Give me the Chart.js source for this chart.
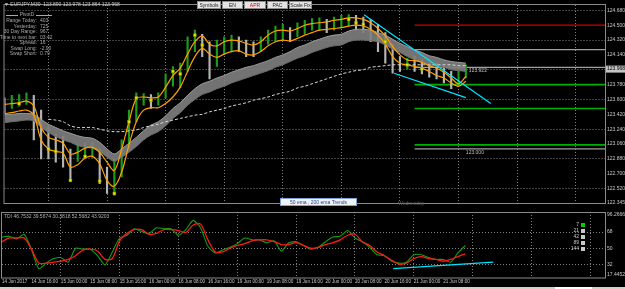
<!DOCTYPE html>
<html>
<head>
<meta charset="utf-8">
<script src="https://cdn.jsdelivr.net/npm/chart.js@4.4.1/dist/chart.umd.min.js"></script>
<style>
  html, body { margin: 0; padding: 0; background: #000; }
  #wrap { position: relative; width: 625px; height: 289px; overflow: hidden; background: #000; }
  #main { position: absolute; left: 0; top: 0; }
  #tdi { position: absolute; left: 0; top: 207px; }
</style>
</head>
<body>
<div id="wrap">
  <canvas id="main" width="625" height="208"></canvas>
  <canvas id="tdi" width="625" height="82"></canvas>
</div>
<script>
// EURJPY M30, sampled every 2 hours (index 0 = 14 Jun 2017 08:00)
const timeLabels = ['14 Jun 2017', '14 Jun 16:00', '15 Jun 00:00', '15 Jun 08:00', '15 Jun 16:00',
  '16 Jun 00:00', '16 Jun 08:00', '16 Jun 16:00', '19 Jun 00:00', '19 Jun 08:00', '19 Jun 16:00',
  '20 Jun 00:00', '20 Jun 08:00', '20 Jun 16:00', '21 Jun 00:00', '21 Jun 08:00'];

const priceHigh = [123.62, 123.65, 123.66, 123.68, 123.65, 123.47, 123.27, 123.17, 123.15, 123.00,
  123.06, 123.08, 123.08, 123.00, 122.78, 122.88, 123.11, 123.47, 123.68, 123.67,
  123.66, 123.68, 123.91, 124.00, 124.04, 124.36, 124.44, 124.39, 124.30, 124.32,
  124.36, 124.38, 124.36, 124.32, 124.30, 124.36, 124.44, 124.49, 124.51, 124.47,
  124.53, 124.56, 124.58, 124.59, 124.57, 124.60, 124.62, 124.63, 124.62, 124.60,
  124.57, 124.51, 124.41, 124.27, 124.12, 124.10, 124.12, 124.08, 124.04, 124.04,
  124.00, 123.94, 123.94, 124.02];
const priceLow = [123.44, 123.49, 123.52, 123.54, 123.11, 122.88, 122.88, 122.84, 122.78, 122.61,
  122.85, 122.88, 122.90, 122.58, 122.46, 122.44, 122.66, 123.00, 123.33, 123.53,
  123.49, 123.53, 123.62, 123.76, 123.74, 123.94, 124.18, 124.12, 123.85, 124.00,
  124.15, 124.18, 124.18, 124.12, 124.12, 124.18, 124.27, 124.30, 124.32, 124.30,
  124.36, 124.39, 124.44, 124.44, 124.41, 124.44, 124.47, 124.49, 124.44, 124.41,
  124.30, 124.18, 124.04, 123.92, 123.94, 123.97, 123.94, 123.91, 123.87, 123.85,
  123.80, 123.73, 123.76, 123.86];

const emaHigh = [123.54, 123.55, 123.56, 123.58, 123.52, 123.26, 123.14, 123.11, 123.07, 122.94,
  122.96, 123.01, 123.02, 122.96, 122.84, 122.74, 123.00, 123.33, 123.61, 123.63,
  123.62, 123.63, 123.75, 123.89, 123.98, 124.15, 124.30, 124.37, 124.27, 124.25,
  124.30, 124.32, 124.31, 124.28, 124.26, 124.30, 124.38, 124.43, 124.44, 124.43,
  124.46, 124.50, 124.52, 124.53, 124.54, 124.56, 124.57, 124.59, 124.59, 124.57,
  124.53, 124.46, 124.37, 124.24, 124.14, 124.08, 124.07, 124.05, 124.01, 123.98,
  123.93, 123.86, 123.79, 123.88];
const emaLow = [123.43, 123.44, 123.46, 123.47, 123.41, 123.11, 123.00, 122.97, 122.95, 122.78,
  122.81, 122.89, 122.91, 122.82, 122.62, 122.55, 122.72, 123.05, 123.33, 123.47,
  123.50, 123.50, 123.55, 123.63, 123.75, 123.94, 124.12, 124.22, 124.15, 124.11,
  124.15, 124.18, 124.19, 124.15, 124.14, 124.18, 124.25, 124.30, 124.32, 124.31,
  124.34, 124.38, 124.41, 124.44, 124.45, 124.46, 124.47, 124.49, 124.50, 124.49,
  124.45, 124.38, 124.27, 124.12, 124.04, 124.02, 124.00, 123.98, 123.94, 123.89,
  123.86, 123.80, 123.76, 123.82];

// 50 ema ribbon
const ribbonTop = [123.42, 123.42, 123.43, 123.43, 123.42, 123.36, 123.30, 123.26, 123.22, 123.19,
  123.16, 123.14, 123.13, 123.08, 123.00, 122.94, 123.00, 123.07, 123.14, 123.22,
  123.29, 123.33, 123.40, 123.49, 123.56, 123.65, 123.73, 123.79, 123.82, 123.86,
  123.89, 123.93, 123.96, 123.99, 124.01, 124.04, 124.07, 124.11, 124.14, 124.18,
  124.23, 124.26, 124.30, 124.33, 124.36, 124.38, 124.39, 124.43, 124.45, 124.45,
  124.44, 124.41, 124.38, 124.33, 124.28, 124.24, 124.20, 124.17, 124.13, 124.11,
  124.08, 124.06, 124.05, 124.04];
const ribbonBottom = [123.32, 123.33, 123.34, 123.35, 123.34, 123.26, 123.20, 123.15, 123.11, 123.08,
  123.04, 123.02, 123.01, 122.97, 122.90, 122.85, 122.90, 122.96, 123.03, 123.11,
  123.17, 123.21, 123.28, 123.37, 123.44, 123.53, 123.60, 123.66, 123.69, 123.73,
  123.76, 123.80, 123.83, 123.86, 123.89, 123.92, 123.95, 123.99, 124.02, 124.06,
  124.10, 124.13, 124.17, 124.20, 124.23, 124.25, 124.26, 124.30, 124.32, 124.32,
  124.31, 124.30, 124.26, 124.21, 124.17, 124.12, 124.08, 124.05, 124.02, 124.00,
  123.99, 123.96, 123.95, 123.94];

// 200 ema
const ema200 = [null, null, null, null, null, null, 123.36, 123.35, 123.33, 123.28,
  123.26, 123.26, 123.26, 123.24, 123.22, 123.21, 123.21, 123.22, 123.23, 123.26,
  123.28, 123.30, 123.33, 123.35, 123.37, 123.39, 123.41, 123.42, 123.45, 123.47,
  123.49, 123.52, 123.54, 123.56, 123.59, 123.61, 123.63, 123.66, 123.68, 123.70,
  123.74, 123.76, 123.79, 123.82, 123.85, 123.88, 123.91, 123.93, 123.95, 123.96,
  123.99, 124.00, 124.01, 124.02, 124.02, 124.02, 124.02, 124.02, 124.02, 124.02,
  124.02, 124.02, 124.01, 124.01];

const fractalIdx = [2, 6, 7, 9, 11, 13, 15, 17, 18, 20, 23, 24, 26, 27, 47, 48, 49, 52, 55, 57];
const fractalVal = [123.55, 123.00, 122.97, 122.62, 122.91, 122.61, 122.46, 123.33, 123.62, 123.59,
  123.94, 123.91, 124.38, 124.26, 124.57, 124.53, 124.51, 124.30, 124.02, 123.97];

// daily pivot levels drawn from 21 Jun 00:00
const pivotLevels = [124.500, 124.205, 123.990, 123.780, 123.490, 123.050, 123.000];
const pivotColors = ['#d00000', '#a0a0a0', '#a0a0a0', '#00b000', '#00b000', '#00b000', '#a0a0a0'];
const pivotFrom = 56;

const trendUpper = [{ x: 49.1, y: 124.627 }, { x: 66.4, y: 123.551 }];
const trendLower = [{ x: 53.2, y: 123.918 }, { x: 63.0, y: 123.622 }];

const priceTicks = [124.68, 124.5, 124.32, 124.14, 123.96, 123.78, 123.6, 123.42, 123.24, 123.06,
  122.88, 122.7, 122.52];
const priceMin = 122.345;
const priceMax = 124.745;
const lastPrice = 123.968;

// TDI
const tdiGreen = [62.5, 63.5, 60.4, 65.6, 49.2, 27.7, 33.8, 38.9, 40.0, 34.9,
  50.2, 49.2, 49.2, 42.0, 31.8, 46.1, 61.5, 64.5, 71.7, 68.6,
  66.6, 72.7, 71.7, 71.7, 64.5, 70.7, 80.9, 72.7, 52.3, 45.1,
  48.2, 51.2, 55.3, 61.5, 59.4, 59.4, 56.3, 58.4, 47.1, 56.3,
  57.4, 53.3, 49.2, 51.2, 57.4, 62.5, 63.5, 69.7, 61.5, 57.4,
  51.2, 43.0, 42.0, 35.9, 33.8, 34.9, 43.0, 43.0, 40.0, 37.9,
  37.9, 34.9, 45.1, 53.3];
const tdiRed = [57.4, 61.5, 61.5, 61.5, 49.2, 33.8, 33.8, 34.9, 35.9, 37.9,
  42.0, 48.2, 49.2, 47.1, 37.9, 38.9, 58.4, 66.6, 70.7, 70.7,
  65.6, 66.6, 70.7, 70.7, 69.7, 67.6, 75.8, 76.8, 59.4, 46.1,
  46.1, 50.2, 53.3, 55.3, 58.4, 59.4, 59.4, 57.4, 54.3, 54.3,
  56.3, 53.3, 50.2, 51.2, 54.3, 56.3, 59.4, 64.5, 65.6, 57.4,
  53.3, 46.1, 42.0, 36.9, 32.8, 33.8, 38.9, 41.0, 38.9, 37.9,
  35.9, 37.9, 41.0, 44.1];
const tdiTrend = [{ x: 53.2, y: 27.7 }, { x: 66.8, y: 34.85 }];
const tdiTicks = [68, 50, 32];
const tdiMin = 17.4452;
const tdiMaxLabel = '96.2666';
const tdiVisibleMax = 90.12;

const LAST_SLOT = 82;
const FONT = "'Liberation Sans Narrow', 'Liberation Sans', sans-serif";
const TEXT = '#c8c8c8';
const GRID = '#808080';

const pts = arr => arr.map((v, i) => ({ x: i, y: v }));

const candleColors = priceHigh.map((h, i) => {
  if (i === 0) return '#b4b4b4';
  const mid = (h + priceLow[i]) / 2;
  const prev = (priceHigh[i - 1] + priceLow[i - 1]) / 2;
  return mid >= prev ? '#1c9c1c' : '#b4b4b4';
});

const xGrid = {
  color: ctx => (ctx.tick && ctx.tick.value > 0 && ctx.tick.value % 8 === 0) ? GRID : 'transparent',
  drawTicks: false,
  lineWidth: 1
};

const overlayMain = {
  id: 'overlayMain',
  afterDraw(chart) {
    const { ctx, chartArea: a, scales } = chart;
    ctx.save();
    ctx.strokeStyle = '#8a8a8a';
    ctx.lineWidth = 1;
    ctx.strokeRect(a.left - 0.5, a.top - 0.5, a.right - a.left + 1, a.bottom - a.top + 1);

    ctx.textBaseline = 'middle';
    ctx.font = `5px ${FONT}`;
    ctx.fillStyle = TEXT;
    ctx.fillText('\u25BC EURJPY,M30  123.890 123.978 123.864 123.968', 4, 5);

    // pivot info block
    ctx.fillStyle = '#a8a8a8';
    ctx.strokeStyle = '#a8a8a8';
    ctx.beginPath();
    ctx.moveTo(6, 15.5); ctx.lineTo(18, 15.5);
    ctx.moveTo(36, 15.5); ctx.lineTo(52, 15.5);
    ctx.stroke();
    ctx.textAlign = 'center';
    ctx.fillText('PivotD', 27, 15);
    const info = [['Range Today:', '403'], ['Yesterday:', '725'], ['30 Day Range:', '967'],
      ['Time to next bar:', '03:42'], ['Spread:', '16'], ['Swap Long:', '-2.90'], ['Swap Short:', '0.79']];
    info.forEach((row, k) => {
      const y = 21 + k * 5.5;
      ctx.textAlign = 'right';
      ctx.fillText(row[0], 37, y);
      ctx.textAlign = 'left';
      ctx.fillText(row[1], 40, y);
    });

    // buttons
    const buttons = [['Symbols', 197, 221], ['EN', 222, 243], ['APR', 244, 266], ['PAC', 267, 288], ['Scale Fix', 289, 312]];
    buttons.forEach(([t, x0, x1]) => {
      ctx.fillStyle = '#e4e4e4';
      ctx.fillRect(x0, 1, x1 - x0, 8);
      ctx.strokeStyle = '#8c8c8c';
      ctx.strokeRect(x0 + 0.5, 1.5, x1 - x0 - 1, 7);
      ctx.fillStyle = t === 'APR' ? '#e00000' : '#202020';
      ctx.textAlign = 'center';
      ctx.fillText(t, (x0 + x1) / 2, 5.5);
    });

    // level labels
    ctx.fillStyle = '#bdbdbd';
    ctx.textAlign = 'left';
    const xp = scales.x.getPixelForValue(priceHigh.length - 1);
    ctx.fillText('123.922', xp + 3, scales.y.getPixelForValue(123.96) + 1);
    ctx.fillText('123.000', xp, scales.y.getPixelForValue(123.0) + 4);

    // current price on the axis
    const yp = scales.y.getPixelForValue(lastPrice);
    ctx.fillStyle = '#c4c4c4';
    ctx.fillRect(a.right + 1, yp - 3.5, 625 - a.right - 1, 7);
    ctx.fillStyle = '#000';
    ctx.fillText(lastPrice.toFixed(3), a.right + 2, yp);

    // bottom labels
    ctx.fillStyle = '#f2f2f2';
    ctx.fillRect(280, 198, 77, 8);
    ctx.strokeStyle = '#7f9fd8';
    ctx.strokeRect(280.5, 198.5, 76, 7);
    ctx.fillStyle = '#1a3fa0';
    ctx.textAlign = 'center';
    ctx.fillText('50 ema , 200 ema Trends', 318.5, 202.5);
    ctx.fillStyle = '#5a5a5a';
    ctx.textAlign = 'left';
    ctx.fillText('Wednesday', 398, 203.5);
    ctx.restore();
  }
};

const overlayTdi = {
  id: 'overlayTdi',
  afterDraw(chart) {
    const { ctx, chartArea: a } = chart;
    ctx.save();
    ctx.strokeStyle = '#8a8a8a';
    ctx.lineWidth = 1;
    ctx.strokeRect(a.left - 0.5, a.top + 0.5, a.right - a.left + 1, a.bottom - a.top - 0.5);
    ctx.font = `5px ${FONT}`;
    ctx.textBaseline = 'middle';
    ctx.fillStyle = '#b0b0b0';
    ctx.fillText('TDI 46.7532 39.5674 30.3818 52.5682 43.9203', 4, a.top + 5);

    ctx.fillStyle = TEXT;
    ctx.fillText(tdiMaxLabel, a.right + 2, a.top + 3);
    ctx.fillText(tdiMin.toFixed(4), a.right + 2, a.bottom - 3);

    const legend = ['7', '21', '42', '89', '144'];
    legend.forEach((t, k) => {
      const y = a.top + 13 + k * 6;
      ctx.textAlign = 'right';
      ctx.fillStyle = TEXT;
      ctx.fillText(t, 579, y);
      ctx.fillStyle = k === 0 ? '#00d000' : '#c8c8c8';
      ctx.fillRect(581, y - 2, 4, 4);
    });

    ctx.fillStyle = '#d4d0c8';
    ctx.fillRect(0, 80, 625, 2);
    ctx.fillStyle = '#ffffff';
    ctx.fillRect(555, 80, 37, 2);
    ctx.restore();
  }
};

new Chart(document.getElementById('main'), {
  type: 'line',
  data: {
    datasets: [
      { data: trendUpper, borderColor: '#00e5ff', borderWidth: 1.2, pointRadius: 0, order: 0 },
      { data: trendLower, borderColor: '#00e5ff', borderWidth: 1.2, pointRadius: 0, order: 0 },
      {
        data: fractalIdx.map((x, k) => ({ x, y: fractalVal[k] })), showLine: false,
        pointStyle: 'rect', pointRadius: 2, pointBackgroundColor: '#e8e800', pointBorderColor: '#8a8a00',
        pointBorderWidth: 0.5, order: 1
      },
      { data: pts(emaHigh), borderColor: '#ffa000', borderWidth: 1.2, pointRadius: 0, tension: 0.35, order: 2 },
      { data: pts(emaLow), borderColor: '#ffa000', borderWidth: 1.2, pointRadius: 0, tension: 0.35, order: 2 },
      {
        data: pts(ema200), borderColor: '#d8d8d8', borderWidth: 1, borderDash: [3, 2], pointRadius: 0,
        tension: 0.3, order: 3
      },
      { data: pts(ribbonTop), borderColor: '#9c9c9c', borderWidth: 1, pointRadius: 0, tension: 0.3, order: 4 },
      {
        data: pts(ribbonBottom), borderColor: '#6c6c6c', borderWidth: 1, pointRadius: 0, tension: 0.3,
        fill: '-1', backgroundColor: 'rgba(128,128,128,0.9)', order: 4
      },
      {
        type: 'bar', data: priceHigh.map((h, i) => ({ x: i, y: [priceLow[i], h] })),
        backgroundColor: candleColors, barThickness: 1.5, order: 6
      },
      ...pivotLevels.map((v, k) => ({
        data: [{ x: pivotFrom, y: v }, { x: LAST_SLOT, y: v }], borderColor: pivotColors[k],
        borderWidth: pivotColors[k] === '#00b000' ? 1.6 : 1.2, pointRadius: 0, order: 7
      }))
    ]
  },
  options: {
    responsive: false,
    animation: false,
    events: [],
    layout: { padding: { left: 2, top: 2, right: 0, bottom: 3 } },
    plugins: { legend: { display: false }, tooltip: { enabled: false } },
    scales: {
      x: {
        type: 'linear', min: 0, max: LAST_SLOT, offset: false,
        ticks: { display: false, stepSize: 4, includeBounds: false },
        grid: xGrid,
        border: { display: false, dash: [1, 2] },
        afterFit: s => { s.height = 0; }
      },
      y: {
        position: 'right', min: priceMin, max: priceMax,
        afterBuildTicks: s => { s.ticks = [...priceTicks, priceMin].map(v => ({ value: v })); },
        ticks: {
          color: TEXT, font: { family: FONT, size: 5 }, padding: 2,
          callback: v => v.toFixed(3)
        },
        grid: {
          color: ctx => {
            const k = priceTicks.indexOf(ctx.tick && ctx.tick.value);
            return k >= 0 && k % 2 === 0 ? GRID : 'transparent';
          },
          drawTicks: false
        },
        border: { display: false, dash: [1, 2] },
        afterFit: s => { s.width = 20; }
      }
    }
  },
  plugins: [overlayMain]
});

new Chart(document.getElementById('tdi'), {
  type: 'line',
  data: {
    datasets: [
      { data: tdiTrend, borderColor: '#00e5ff', borderWidth: 1.2, pointRadius: 0 },
      { data: pts(tdiRed), borderColor: '#ff1a1a', borderWidth: 1.3, pointRadius: 0, tension: 0.3 },
      { data: pts(tdiGreen), borderColor: '#10a010', borderWidth: 1.1, pointRadius: 0, tension: 0.2 }
    ]
  },
  options: {
    responsive: false,
    animation: false,
    events: [],
    layout: { padding: { left: 2, top: 0, right: 0, bottom: 0 } },
    plugins: { legend: { display: false }, tooltip: { enabled: false } },
    scales: {
      x: {
        type: 'linear', min: 0, max: LAST_SLOT, offset: false,
        ticks: {
          stepSize: 4, includeBounds: false, autoSkip: false, maxRotation: 0, align: 'start',
          color: TEXT, font: { family: FONT, size: 4.6 }, padding: 1,
          callback: v => (v % 4 === 0 && timeLabels[v / 4]) ? timeLabels[v / 4] : ''
        },
        grid: xGrid,
        border: { display: false, dash: [1, 2] },
        afterFit: s => { s.height = 11; }
      },
      y: {
        position: 'right', min: tdiMin, max: tdiVisibleMax,
        afterBuildTicks: s => { s.ticks = tdiTicks.map(v => ({ value: v })); },
        ticks: { color: TEXT, font: { family: FONT, size: 5 }, padding: 2 },
        grid: { color: GRID, drawTicks: false },
        border: { display: false, dash: [1, 2] },
        afterFit: s => { s.width = 20; }
      }
    }
  },
  plugins: [overlayTdi]
});
</script>
</body>
</html>
